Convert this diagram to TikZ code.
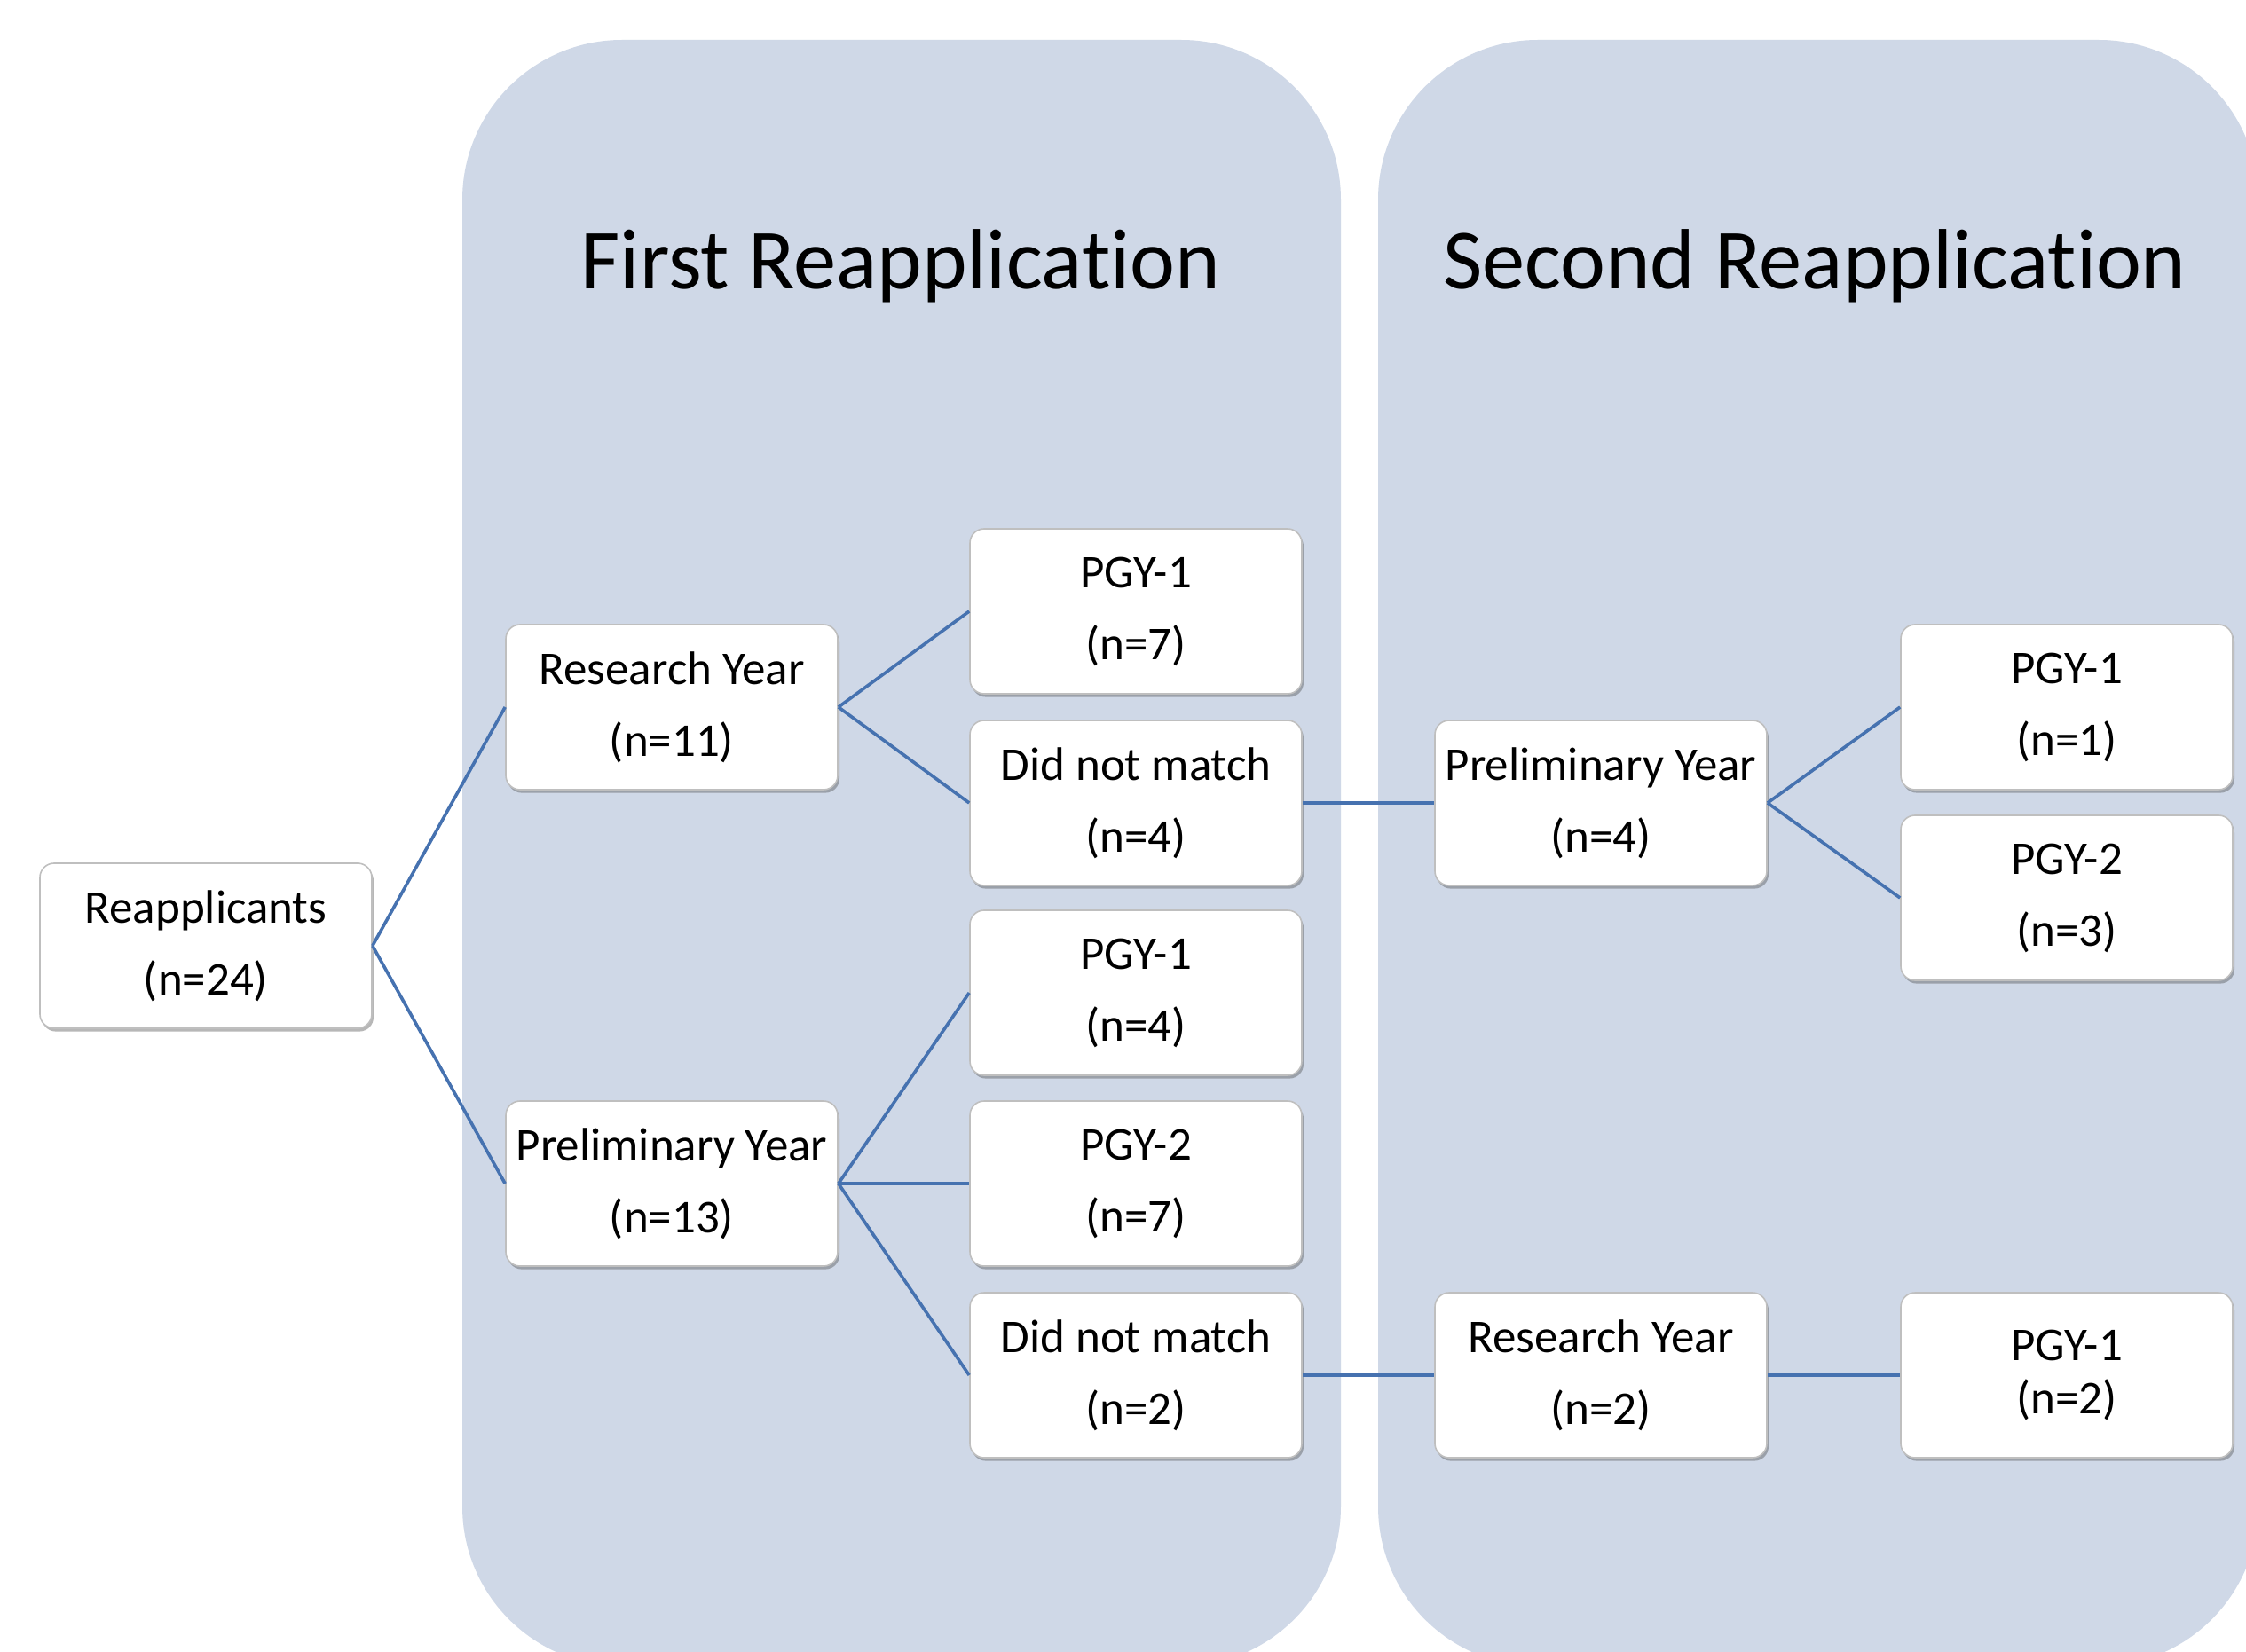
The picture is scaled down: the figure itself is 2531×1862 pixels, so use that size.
\documentclass[tikz,border=0pt]{standalone}
\usepackage{fontspec}
\setmainfont{Carlito}[RawFeature={-liga;-calt}]
\usetikzlibrary{shadows}
\definecolor{panelc}{HTML}{CFD8E7}
\definecolor{conn}{HTML}{4672B0}
\begin{document}
\begin{tikzpicture}[x=0.25pt,y=-0.25pt,
 box/.style={draw=gray!50, line width=0.4pt, fill=white, rounded corners=4pt,
   minimum width=93.5pt, minimum height=46.5pt, align=center, inner sep=0pt,
   font=\fontsize{13.25}{20.25}\selectfont,
   drop shadow={shadow xshift=0.5pt, shadow yshift=-0.9pt, opacity=0.4, fill=black!70}},
 link/.style={draw=conn, line width=0.9pt},
 ttl/.style={font=\fontsize{24.1}{29}\selectfont}]
\useasboundingbox (0,0) rectangle (2531,1862);
\clip (0,0) rectangle (2531,1862);
\fill[white] (0,0) rectangle (2531,1862);
\fill[panelc, rounded corners=45pt] (521,45) rectangle (1511,1878);
\fill[panelc, rounded corners=45pt] (1553,45) rectangle (2545,1878);
\node[ttl] (t1) at (1015,300) {First Reapplicat\kern0pt ion};
\node[ttl] (t2) at (2045,300) {Second Reapplicat\kern0pt ion};

\node[box] (re) at (232,1066) {Reapplicants\\(n=24)};
\node[box] (ry) at (757,797) {Research Year\\(n=11)};
\node[box] (py) at (757,1334) {Preliminary Year\\(n=13)};
\node[box] (a1) at (1280,689) {PGY-1\\(n=7)};
\node[box] (a2) at (1280,905) {Did not match\\(n=4)};
\node[box] (b1) at (1280,1119) {PGY-1\\(n=4)};
\node[box] (b2) at (1280,1334) {PGY-2\\(n=7)};
\node[box] (b3) at (1280,1550) {Did not match\\(n=2)};
\node[box] (c1) at (1804,905) {Preliminary Year\\(n=4)};
\node[box] (c2) at (1804,1550) {Research Year\\(n=2)};
\node[box] (d1) at (2329,797) {PGY-1\\(n=1)};
\node[box] (d2) at (2329,1012) {PGY-2\\(n=3)};
\node[box, font=\fontsize{13.25}{15}\selectfont] (d3) at (2329,1550) {PGY-1\\(n=2)};

\draw[link] (re.east) -- (ry.west);
\draw[link] (re.east) -- (py.west);
\draw[link] (ry.east) -- (a1.west);
\draw[link] (ry.east) -- (a2.west);
\draw[link] (py.east) -- (b1.west);
\draw[link] (py.east) -- (b2.west);
\draw[link] (py.east) -- (b3.west);
\draw[link] (a2.east) -- (c1.west);
\draw[link] (c1.east) -- (d1.west);
\draw[link] (c1.east) -- (d2.west);
\draw[link] (b3.east) -- (c2.west);
\draw[link] (c2.east) -- (d3.west);
\end{tikzpicture}
\end{document}
